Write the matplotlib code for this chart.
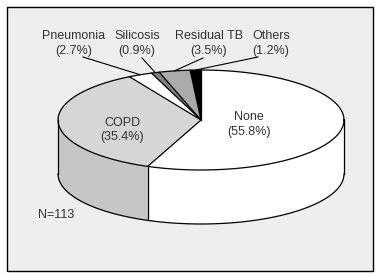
import numpy as np
import matplotlib.pyplot as plt
from matplotlib.patches import Polygon, Rectangle

plt.rcParams['font.family'] = ['Liberation Sans', 'DejaVu Sans']

# data
labels = ['None', 'COPD', 'Pneumonia', 'Silicosis', 'Residual TB', 'Others']
pcts = [55.8, 35.4, 2.7, 0.9, 3.5, 1.2]
top_colors = ['#ffffff', '#d6d6d6', '#ffffff', '#808080', '#aaaaaa', '#000000']
side_colors = ['#ffffff', '#c6c6c6', '#ffffff', '#707070', '#999999', '#000000']
n_total = 113

# ellipse geometry (pixels)
cx, cy = 201, 120
a, b = 143, 50
depth = 54


def rim(t, dy=0):
    t = np.radians(t)
    return cx + a * np.cos(t), cy - b * np.sin(t) + dy


fig = plt.figure(figsize=(3.81, 2.75), dpi=100)
ax = fig.add_axes([0, 0, 1, 1])
ax.set_xlim(0, 381)
ax.set_ylim(275, 0)
ax.axis('off')

ax.add_patch(Rectangle((7, 7), 366, 264, facecolor='#eeeeee',
                       edgecolor='black', lw=1, zorder=0))

total = sum(pcts)
bounds = [90.0]
for p in pcts:
    bounds.append(bounds[-1] - 360 * p / total)

# sides
for i in range(len(pcts)):
    hi, lo = bounds[i], bounds[i + 1]
    h = min(hi, 0)
    l = max(lo, -180)
    if l < h:
        t = np.linspace(h, l, 80)
        x1, y1 = rim(t)
        x2, y2 = rim(t[::-1], depth)
        pts = np.column_stack([np.r_[x1, x2], np.r_[y1, y2]])
        ax.add_patch(Polygon(pts, closed=True, facecolor=side_colors[i],
                             edgecolor='none', zorder=1))

# tops
for i in range(len(pcts)):
    t = np.linspace(bounds[i], bounds[i + 1], 120)
    x, y = rim(t)
    pts = np.column_stack([np.r_[cx, x], np.r_[cy, y]])
    ax.add_patch(Polygon(pts, closed=True, facecolor=top_colors[i],
                         edgecolor='none', zorder=2))

# outlines
lw = 0.9
t = np.linspace(0, 360, 400)
x, y = rim(t)
ax.plot(x, y, color='black', lw=lw, zorder=3)
t = np.linspace(-180, 0, 200)
x, y = rim(t, depth)
ax.plot(x, y, color='black', lw=lw, zorder=3)
for ang in [-180, 0]:
    x0, y0 = rim(ang)
    ax.plot([x0, x0], [y0, y0 + depth], color='black', lw=lw, zorder=3)
for ang in bounds[:-1]:
    x0, y0 = rim(ang)
    ax.plot([cx, x0], [cy, y0], color='black', lw=lw, zorder=3)
    if -180 < ang < 0 or -180 < ang + 360 < 0:
        ax.plot([x0, x0], [y0, y0 + depth], color='black', lw=lw, zorder=3)

# labels
txt = dict(fontsize=9, color='#333333', ha='center', va='center', zorder=4)
inside = {'None': (249, 117, 132), 'COPD': (122, 123, 137)}
outside = {'Pneumonia': (74, 36, 51), 'Silicosis': (137, 36, 51),
           'Residual TB': (209, 36, 51), 'Others': (271, 36, 51)}
line_start = {'Pneumonia': (83, 57), 'Silicosis': (142, 58),
              'Residual TB': (203, 58), 'Others': (258, 57)}
for i, lab in enumerate(labels):
    pct = '(%.1f%%)' % pcts[i]
    if lab in inside:
        x0, y1, y2 = inside[lab]
    else:
        x0, y1, y2 = outside[lab]
        mid = (bounds[i] + bounds[i + 1]) / 2
        xe, ye = rim(mid)
        xs, ys = line_start[lab]
        ax.plot([xs, xe], [ys, ye], color='black', lw=0.8, zorder=3)
    ax.text(x0, y1, lab, **txt)
    ax.text(x0, y2, pct, **txt)

ax.text(38, 215, 'N=%d' % n_total, fontsize=9, color='#333333',
        ha='left', va='center')

fig.savefig('out.png', dpi=100)
